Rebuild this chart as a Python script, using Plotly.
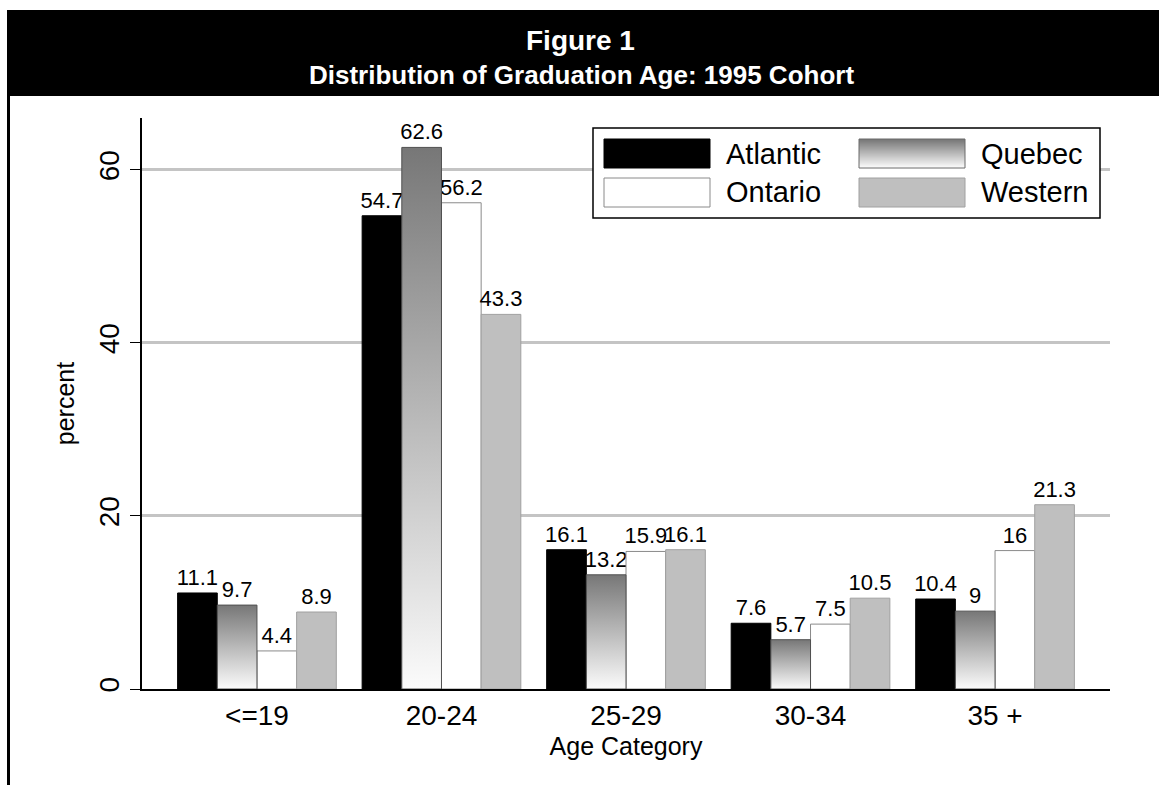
import plotly.graph_objects as go

# ---- data -------------------------------------------------------------
categories = ["<=19", "20-24", "25-29", "30-34", "35 +"]
atlantic = [11.1, 54.7, 16.1, 7.6, 10.4]
quebec = [9.7, 62.6, 13.2, 5.7, 9]
ontario = [4.4, 56.2, 15.9, 7.5, 16]
western = [8.9, 43.3, 16.1, 10.5, 21.3]
y_ticks = [0, 20, 40, 60]

# ---- geometry helpers -------------------------------------------------
W, H = 1159, 785
ML, MR, MT, MB = 142, 49, 118, 96
PW = W - ML - MR
PH = H - MT - MB


def px(x):
    """pixel column -> paper x"""
    return (x - ML) / PW


def py(y):
    """pixel row -> paper y"""
    return (H - MB - y) / PH


FONT = "Liberation Sans, Arial, Helvetica, sans-serif"
BAR_W = 0.215
QC_TOP, QC_BOTTOM = (119, 119, 119), (251, 251, 251)

series = [
    ("Atlantic", atlantic, "black", "black"),
    ("Quebec", quebec, "rgba(0,0,0,0)", "rgba(0,0,0,0)"),
    ("Ontario", ontario, "white", "#8a8a8a"),
    ("Western", western, "#bfbfbf", "#a0a0a0"),
]

fig = go.Figure()
xs = list(range(len(categories)))

for k, (name, vals, fill, edge) in enumerate(series):
    fig.add_trace(go.Bar(
        x=xs, y=vals, name=name,
        width=BAR_W, offset=(k - 2) * BAR_W,
        marker=dict(color=fill, line=dict(color=edge, width=1)),
        text=[f"{v:g}" for v in vals],
        textposition="outside", textangle=0, constraintext="none",
        textfont=dict(family=FONT, size=22, color="black"),
        cliponaxis=False, showlegend=False,
    ))

# Quebec bars: vertical grey-to-white gradient fill, one polygon per bar
qc_off = -1 * BAR_W
for i, v in zip(xs, quebec):
    x0, x1 = i + qc_off, i + qc_off + BAR_W
    fig.add_trace(go.Scatter(
        x=[x0, x1, x1, x0, x0], y=[0, 0, v, v, 0],
        mode="lines", fill="toself",
        fillgradient=dict(type="vertical",
                          colorscale=[[0, "rgb(%d,%d,%d)" % QC_BOTTOM],
                                      [1, "rgb(%d,%d,%d)" % QC_TOP]]),
        line=dict(color="#505050", width=1),
        hoverinfo="skip", showlegend=False,
    ))

shapes = []
annotations = []

# header band and left frame line
shapes.append(dict(type="rect", xref="paper", yref="paper",
                   x0=px(7), x1=px(W + 2), y0=py(96), y1=py(10),
                   fillcolor="black", line=dict(width=0), layer="above"))
shapes.append(dict(type="line", xref="paper", yref="paper",
                   x0=px(8.5), x1=px(8.5), y0=py(H + 2), y1=py(10),
                   line=dict(color="black", width=3), layer="above"))
annotations.append(dict(text="<b>Figure 1</b>", xref="paper", yref="paper",
                        x=px(580), y=py(41), xanchor="center", yanchor="middle",
                        showarrow=False,
                        font=dict(family=FONT, size=28, color="white")))
annotations.append(dict(text="<b>Distribution of Graduation Age: 1995 Cohort</b>",
                        xref="paper", yref="paper", x=px(581), y=py(75),
                        xanchor="center", yanchor="middle", showarrow=False,
                        font=dict(family=FONT, size=26, color="white")))

# legend box
shapes.append(dict(type="rect", xref="paper", yref="paper",
                   x0=px(593), x1=px(1100), y0=py(218), y1=py(128),
                   fillcolor="white", line=dict(color="black", width=1.5),
                   layer="above"))

legend_items = [
    ("Atlantic", 604, 139, "black", "black"),
    ("Quebec", 859, 139, None, "#6a6a6a"),
    ("Ontario", 604, 178, "white", "#8a8a8a"),
    ("Western", 859, 178, "#bfbfbf", "#a0a0a0"),
]
SW, SH = 106, 29
for name, lx, ly, fill, edge in legend_items:
    if fill is None:
        for r in range(SH):
            t = r / (SH - 1)
            c = [round(a + (b - a) * t) for a, b in zip(QC_TOP, QC_BOTTOM)]
            shapes.append(dict(type="rect", xref="paper", yref="paper",
                               x0=px(lx), x1=px(lx + SW),
                               y0=py(ly + r + 1), y1=py(ly + r),
                               fillcolor="rgb(%d,%d,%d)" % tuple(c),
                               line=dict(width=0), layer="above"))
        shapes.append(dict(type="rect", xref="paper", yref="paper",
                           x0=px(lx), x1=px(lx + SW), y0=py(ly + SH), y1=py(ly),
                           fillcolor="rgba(0,0,0,0)",
                           line=dict(color=edge, width=1), layer="above"))
    else:
        shapes.append(dict(type="rect", xref="paper", yref="paper",
                           x0=px(lx), x1=px(lx + SW), y0=py(ly + SH), y1=py(ly),
                           fillcolor=fill, line=dict(color=edge, width=1),
                           layer="above"))
    annotations.append(dict(text=name, xref="paper", yref="paper",
                            x=px(lx + SW + 14), y=py(ly + SH / 2),
                            xanchor="left", yanchor="middle", showarrow=False,
                            font=dict(family=FONT, size=29, color="black")))

fig.update_layout(
    width=W, height=H,
    margin=dict(l=ML, r=MR, t=MT, b=MB, pad=0),
    paper_bgcolor="white", plot_bgcolor="white",
    barmode="overlay",
    showlegend=False,
    shapes=shapes,
    annotations=annotations,
    font=dict(family=FONT, color="black"),
    xaxis=dict(
        range=[-0.623, 4.623], tickmode="array", tickvals=xs, ticktext=categories,
        showline=True, linecolor="black", linewidth=2, ticks="",
        showgrid=False, zeroline=False,
        tickfont=dict(family=FONT, size=28, color="black"),
        title=dict(text="Age Category", standoff=8,
                   font=dict(family=FONT, size=25, color="black")),
    ),
    yaxis=dict(
        range=[0, 66], tickmode="array", tickvals=y_ticks, tickangle=-90,
        ticks="outside", ticklen=10, tickcolor="black", tickwidth=1,
        showline=True, linecolor="black", linewidth=1.5,
        showgrid=True, gridcolor="#c4c4c4", gridwidth=2.5, zeroline=False,
        tickfont=dict(family=FONT, size=28, color="black"),
        title=dict(text="percent", standoff=12,
                   font=dict(family=FONT, size=25, color="black")),
    ),
)

fig.write_html("out.html")
